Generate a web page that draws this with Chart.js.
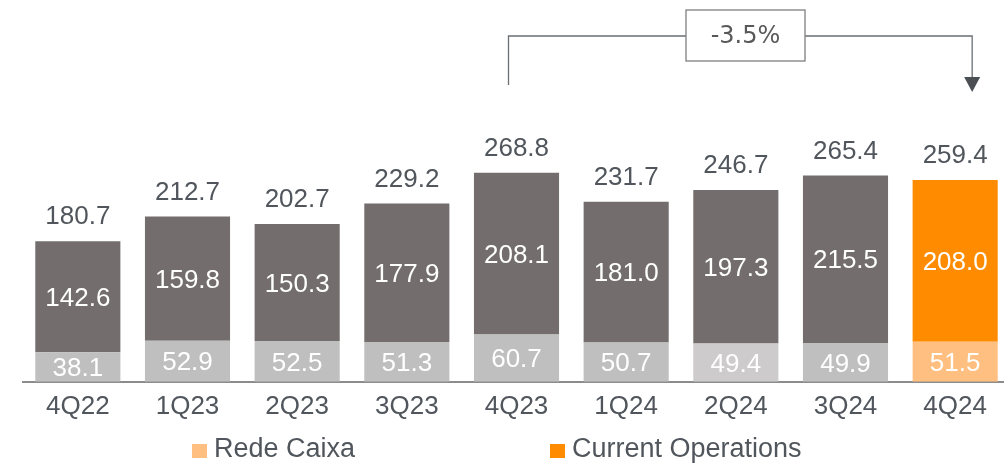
<!DOCTYPE html>
<html>
<head>
<meta charset="utf-8">
<script src="https://cdn.jsdelivr.net/npm/chart.js@4/dist/chart.umd.min.js"></script>
<style>
  html, body { margin: 0; padding: 0; background: #fff; overflow: hidden; }
  #wrap { position: relative; width: 1010px; height: 466px; }
</style>
</head>
<body>
<div id="wrap"><canvas id="c" width="1010" height="466"></canvas></div>
<script>
const categories = ['4Q22', '1Q23', '2Q23', '3Q23', '4Q23', '1Q24', '2Q24', '3Q24', '4Q24'];
const redeCaixa = [38.1, 52.9, 52.5, 51.3, 60.7, 50.7, 49.4, 49.9, 51.5];
const currentOps = [142.6, 159.8, 150.3, 177.9, 208.1, 181.0, 197.3, 215.5, 208.0];
const totals = [180.7, 212.7, 202.7, 229.2, 268.8, 231.7, 246.7, 265.4, 259.4];
const changeLabel = '-3.5%';
const seriesNames = ['Rede Caixa', 'Current Operations'];

const FONT = '"Liberation Sans", Arial, sans-serif';
const TEXT = '#50565c';

const lowColors = categories.map((c, i) => i === categories.length - 1 ? '#ffbf80' : (i === 6 ? '#cdcbcb' : '#bfbfbf'));
const topColors = categories.map((c, i) => i === categories.length - 1 ? '#ff8c00' : '#736e6d');

const labelPlugin = {
  id: 'labels',
  afterDatasetsDraw(chart) {
    const ctx = chart.ctx;
    ctx.save();
    ctx.font = '26px ' + FONT;
    ctx.textAlign = 'center';
    ctx.textBaseline = 'middle';
    chart.data.datasets.forEach((ds, di) => {
      const meta = chart.getDatasetMeta(di);
      meta.data.forEach((bar, i) => {
        const top = Math.min(bar.y, bar.base), bot = Math.max(bar.y, bar.base);
        ctx.fillStyle = '#ffffff';
        const v = ds.data[i];
        ctx.fillText(v.toFixed(1), bar.x, (top + bot) / 2 + 2);
      });
    });
    const topMeta = chart.getDatasetMeta(1);
    ctx.fillStyle = TEXT;
    topMeta.data.forEach((bar, i) => {
      ctx.fillText(totals[i].toFixed(1), bar.x, bar.y - 24);
    });
    ctx.restore();
  }
};

const annotationPlugin = {
  id: 'annot',
  afterDraw(chart) {
    const ctx = chart.ctx;
    const xs = chart.scales.x;
    const x1 = xs.getPixelForValue(4) - 8;
    const x2 = xs.getPixelForValue(8) + 17;
    const yLine = 36;
    const boxL = 686, boxR = 805, boxT = 10, boxB = 61;
    ctx.save();
    ctx.strokeStyle = '#6b6f73';
    ctx.lineWidth = 1.3;
    ctx.beginPath();
    ctx.moveTo(x1, 85);
    ctx.lineTo(x1, yLine);
    ctx.lineTo(boxL, yLine);
    ctx.moveTo(boxR, yLine);
    ctx.lineTo(x2, yLine);
    ctx.lineTo(x2, 78);
    ctx.stroke();
    ctx.fillStyle = '#4a4f54';
    ctx.beginPath();
    ctx.moveTo(x2 - 8, 77);
    ctx.lineTo(x2 + 8, 77);
    ctx.lineTo(x2, 92);
    ctx.closePath();
    ctx.fill();
    ctx.strokeStyle = '#7f7f7f';
    ctx.lineWidth = 1.3;
    ctx.strokeRect(boxL, boxT, boxR - boxL, boxB - boxT);
    ctx.fillStyle = '#595959';
    ctx.font = '24px "DejaVu Sans", sans-serif';
    ctx.textAlign = 'center';
    ctx.textBaseline = 'middle';
    ctx.fillText(changeLabel, (boxL + boxR) / 2, 37);
    ctx.restore();
  }
};

const legendPlugin = {
  id: 'customLegend',
  afterDraw(chart) {
    const ctx = chart.ctx;
    const items = [
      { x: 192, color: '#ffbf80', text: seriesNames[0] },
      { x: 550, color: '#ff8c00', text: seriesNames[1] }
    ];
    ctx.save();
    ctx.font = '27px ' + FONT;
    ctx.textBaseline = 'middle';
    ctx.textAlign = 'left';
    items.forEach(it => {
      ctx.fillStyle = it.color;
      ctx.fillRect(it.x, 444, 15, 14);
      ctx.fillStyle = TEXT;
      ctx.fillText(it.text, it.x + 22, 450);
    });
    ctx.restore();
  }
};

new Chart(document.getElementById('c'), {
  type: 'bar',
  data: {
    labels: categories,
    datasets: [
      { label: seriesNames[0], data: redeCaixa, backgroundColor: lowColors, borderWidth: 0, barPercentage: 0.776, categoryPercentage: 1 },
      { label: seriesNames[1], data: currentOps, backgroundColor: topColors, borderWidth: 0, barPercentage: 0.776, categoryPercentage: 1 }
    ]
  },
  options: {
    responsive: false,
    animation: false,
    devicePixelRatio: 1,
    layout: { padding: { left: 23, right: 0, top: 0, bottom: 35 } },
    plugins: { legend: { display: false }, tooltip: { enabled: false } },
    scales: {
      x: {
        stacked: true,
        grid: { display: false, drawTicks: false },
        border: { display: true, color: '#8c8c8c', width: 2 },
        ticks: { color: TEXT, font: { family: FONT, size: 26 }, padding: 9 }
      },
      y: {
        stacked: true,
        display: false,
        min: 0,
        max: 491
      }
    }
  },
  plugins: [labelPlugin, annotationPlugin, legendPlugin]
});
</script>
</body>
</html>
